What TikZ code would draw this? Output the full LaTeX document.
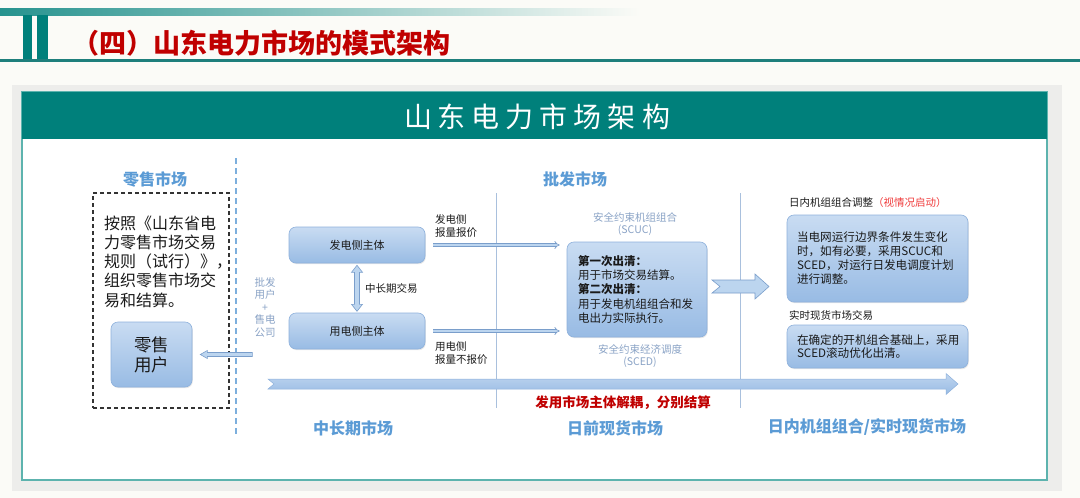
\documentclass[tikz,border=0pt]{standalone}
\usepackage{fontspec}
\setmainfont{Noto Sans CJK SC}
\usetikzlibrary{arrows.meta,shadows,calc}
\definecolor{tealA}{HTML}{00807B}
\definecolor{tealB}{HTML}{1E7F7C}
\definecolor{panelEdge}{HTML}{5DB3AE}
\definecolor{titleRed}{HTML}{C00000}
\definecolor{labelBlue}{HTML}{5B9BD5}
\definecolor{boxTop}{HTML}{C9DCF2}
\definecolor{boxBot}{HTML}{98BBE4}
\definecolor{boxEdge}{HTML}{8EB1DC}
\definecolor{arrFill}{HTML}{BCD5EF}
\definecolor{arrEdge}{HTML}{7A9ECB}
\definecolor{vline}{HTML}{A9C0DD}
\definecolor{grayBlue}{HTML}{8AA3C6}
\definecolor{softRed}{HTML}{F03C3C}
\definecolor{bg}{HTML}{FBFBF7}
\definecolor{shadowGray}{HTML}{EDEDEB}
\definecolor{ink}{HTML}{1A1A1A}
\begin{document}
\begin{tikzpicture}[x=1pt,y=-1pt,
  bluebox/.style={rectangle,rounded corners=7pt,draw=boxEdge,line width=0.6pt,top color=boxTop,bottom color=boxBot,inner sep=0pt,text=ink,drop shadow={opacity=0.18,shadow xshift=0.8pt,shadow yshift=-1.2pt}},
  plain/.style={inner sep=0pt,text=ink},
  mkt/.style={inner sep=0pt,text=labelBlue,font=\fontsize{16}{19}\selectfont\bfseries},
  smalllbl/.style={inner sep=0pt,text=ink,font=\fontsize{10.5}{12.5}\selectfont,align=left},
  graylbl/.style={inner sep=0pt,text=grayBlue,font=\fontsize{10.5}{12}\selectfont,align=center},
  dblarrow/.style={draw=arrEdge,double=arrFill,double distance=2pt,line width=0.7pt,-{Implies}},
  hollow/.style={draw=arrEdge,fill=arrFill,line width=0.6pt,line join=miter},
]
\useasboundingbox (0,0) rectangle (1080,498);
% background and page header
\fill[bg] (0,0) rectangle (1080,498);
\shade[left color=tealA!85, right color=bg] (0,8) rectangle (640,15);
\fill[tealA] (23,15) rectangle (32,60);
\fill[tealA] (37,15) rectangle (48,60);
\fill[tealB] (0,59) rectangle (1080,61.5);
\node[anchor=west, inner sep=0pt, text=titleRed, font=\fontsize{27}{30}\selectfont\bfseries] (title) at (72.5,43) {（四）山东电力市场的模式架构};
% panel
\fill[shadowGray] (12,85) rectangle (1062,491);
\draw[panelEdge, line width=1.2pt, fill=white] (22,92) rectangle (1047,480);
\fill[tealA] (22,92) rectangle (1047,139);
\node[text=white, inner sep=0pt, font=\fontsize{28}{30}\selectfont] (head) at (537,117) {山\kern6pt 东\kern6pt 电\kern6pt 力\kern6pt 市\kern6pt 场\kern6pt 架\kern6pt 构};
% retail side
\draw[labelBlue!80, line width=1.4pt, dash pattern=on 6pt off 4pt] (236,158) -- (236,435);
\node[mkt] (retail) at (155,179) {零售市场};
\node[draw=black!80, line width=1.1pt, dash pattern=on 4pt off 3pt, minimum width=136pt, minimum height=215pt, inner sep=0pt] (rbox) at (161,300.5) {};
\node[plain, anchor=west, align=left, font=\fontsize{16}{19.25}\selectfont] (rtext) at (104,261.5) {按照《山东省电\\力零售市场交易\\规则（试行）》，\\组织零售市场交\\易和结算。};
\node[bluebox, minimum width=81pt, minimum height=65pt, align=center, font=\fontsize{17.5}{20}\selectfont] (ruser) at (151.5,354.5) {零售\\用户};
\draw[hollow] ($(ruser.east)+(8,0)$) -- ++(7,-4) -- ++(0,2) -- ++(45,0) -- ++(0,4) -- ++(-45,0) -- ++(0,2) -- cycle;
\node[inner sep=0pt, text=grayBlue, font=\fontsize{10.5}{12.5}\selectfont, align=center] (wuser) at (265,307) {批发\\用户\\+\\售电\\公司};
% wholesale
\node[mkt] (wholesale) at (575,179) {批发市场};
\node[bluebox, minimum width=136pt, minimum height=36pt, font=\fontsize{11}{13}\selectfont] (gen) at (357,245) {发电侧主体};
\node[bluebox, minimum width=136pt, minimum height=36pt, font=\fontsize{11}{13}\selectfont] (use) at (357,331) {用电侧主体};
\draw[hollow] ($(gen.south)+(0,2)$) -- ++(5.5,7) -- ++(-3,0) -- ++(0,32) -- ++(3,0) -- ++(-5.5,7) -- ++(-5.5,-7) -- ++(3,0) -- ++(0,-32) -- ++(-3,0) -- cycle;
\node[smalllbl, anchor=west] (mlt) at (365,288) {中长期交易};
\node[smalllbl, anchor=west] (genq) at (435,226) {发电侧\\报量报价};
\node[smalllbl, anchor=west] (useq) at (435,353) {用电侧\\报量不报价};
\draw[vline, line width=1pt] (496,193) -- (496,408);
\draw[vline, line width=1pt] (740,193) -- (740,408);
\node[graylbl] (scucl) at (635,224) {安全约束机组组合\\(SCUC)};
\node[bluebox, minimum width=140pt, minimum height=95pt, text width=118pt, align=left, inner xsep=11pt, font=\fontsize{11.5}{14.25}\selectfont] (scuc) at (637,289.5) {\textbf{第一次出清：}\\用于市场交易结算。\\\textbf{第二次出清：}\\用于发电机组组合和发\\电出力实际执行。};
\node[graylbl] (scedl) at (640,356.5) {安全约束经济调度\\(SCED)};
\draw[dblarrow, shorten <=8pt, shorten >=7pt] (gen.east) -- (gen.east -| scuc.west);
\draw[dblarrow, shorten <=8pt, shorten >=7pt] (use.east) -- (use.east -| scuc.west);
\draw[hollow] (712,280) -- (755,280) -- (755,274) -- (769,286.5) -- (755,299) -- (755,293) -- (712,293) -- (720,286.5) -- cycle;
% intraday
\node[smalllbl, anchor=west] (intra) at (789,203) {日内机组组合调整\textcolor{softRed}{（视情况启动）}};
\node[bluebox, minimum width=181pt, minimum height=87pt, text width=161pt, align=left, inner xsep=10pt, font=\fontsize{11.6}{14}\selectfont] (adj) at (877.5,258.5) {当电网运行边界条件发生变化\\时，如有必要，采用SCUC和\\SCED，对运行日发电调度计划\\进行调整。};
\node[smalllbl, anchor=west] (rtl) at (789,315) {实时现货市场交易};
\node[bluebox, minimum width=181pt, minimum height=43pt, text width=161pt, align=left, inner xsep=10pt, font=\fontsize{11.6}{12.3}\selectfont] (rt) at (877.5,346.5) {在确定的开机组合基础上，采用\\SCED滚动优化出清。};
% timeline arrow
\shade[draw=boxEdge, top color=boxTop!80!boxBot, bottom color=boxBot, line width=0.5pt] (268,379) -- (946,379) -- (946,373.5) -- (958,384) -- (946,394.5) -- (946,389) -- (268,389) -- (274,384) -- cycle;
\node[inner sep=0pt, text=titleRed, font=\fontsize{13.5}{15}\selectfont\bfseries] (decouple) at (623,403) {发用市场主体解耦，分别结算};
\node[mkt] (mid) at (353,428) {中长期市场};
\node[mkt] (dayahead) at (615,428) {日前现货市场};
\node[mkt] (realtime) at (867,427) {日内机组组合/实时现货市场};
\end{tikzpicture}
\end{document}
